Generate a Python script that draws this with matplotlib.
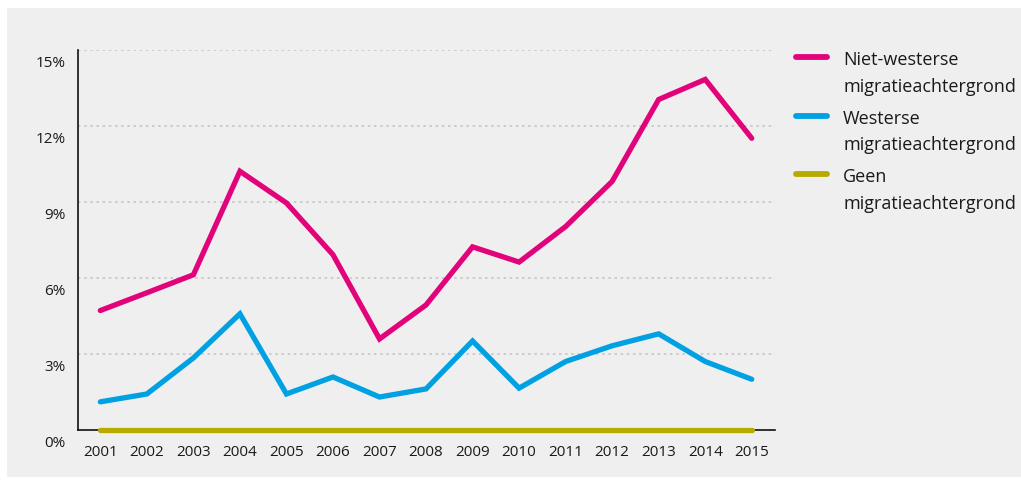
import matplotlib
matplotlib.use("Agg")
import matplotlib.pyplot as plt
from matplotlib.patches import Rectangle
from matplotlib.lines import Line2D
from matplotlib.transforms import ScaledTranslation

years = list(range(2001, 2016))
niet_westers = [4.71, 5.41, 6.12, 10.20, 8.95, 6.91, 3.59, 4.93, 7.22, 6.62, 8.02, 9.80, 13.03, 13.82, 11.50]
westers = [1.11, 1.42, 2.84, 4.58, 1.42, 2.09, 1.30, 1.62, 3.51, 1.65, 2.70, 3.32, 3.79, 2.70, 2.00]
geen = [0.0] * 15
series_labels = ["Niet-westerse\nmigratieachtergrond",
                 "Westerse\nmigratieachtergrond",
                 "Geen\nmigratieachtergrond"]
series_colors = ["#e2037a", "#00a1e3", "#b8ab00"]
y_ticks = [0, 3, 6, 9, 12, 15]
y_tick_labels = ["0%", "3%", "6%", "9%", "12%", "15%"]

W, H = 1021, 481
fig = plt.figure(figsize=(W / 100, H / 100), dpi=100)
fig.patch.set_facecolor("white")
fig.patches.append(Rectangle((7 / W, 3 / H), (W - 7) / W, (H - 12) / H,
                             transform=fig.transFigure, facecolor="#efefef",
                             edgecolor="none", zorder=0))

ax = fig.add_axes([78 / W, (H - 431) / H, (775 - 78) / W, 380.5 / H])
ax.set_facecolor("none")
ax.set_zorder(2)

font = "Open Sans"
text_color = "#1a1a1a"

for vals, col in zip([niet_westers, westers, geen], series_colors):
    ax.plot(years, vals, color=col, lw=3.8, solid_capstyle="round",
            solid_joinstyle="miter", zorder=3, clip_on=False)

ax.set_xlim(2000.52, 2015.5)
ax.set_ylim(0, 15)
ax.set_xticks(years)
ax.set_xticklabels([str(y) for y in years], fontfamily=font, fontsize=11, color=text_color)
ax.set_yticks(y_ticks)
ax.set_yticklabels(y_tick_labels, fontfamily=font, fontsize=11, color=text_color)
ax.tick_params(axis="both", length=0)
ax.tick_params(axis="x", pad=10)
ax.tick_params(axis="y", pad=9)
shift = ScaledTranslation(0, -11 / 100, fig.dpi_scale_trans)
for lab in ax.get_yticklabels():
    lab.set_transform(lab.get_transform() + shift)

ax.yaxis.grid(True, linestyle=(0, (1.5, 2.2)), color="#c6c6c6", lw=1.2, zorder=1)
ax.set_axisbelow(True)
for s in ("top", "right"):
    ax.spines[s].set_visible(False)
for s in ("left", "bottom"):
    ax.spines[s].set_color("#111111")
    ax.spines[s].set_linewidth(1.2)

# legend drawn at the right of the plot
entry_y = [58, 116.5, 175]
for lab, col, yy in zip(series_labels, series_colors, entry_y):
    fig.add_artist(Line2D([796 / W, 827 / W], [1 - yy / H] * 2, color=col, lw=4.2,
                          solid_capstyle="round", zorder=3))
    for i, part in enumerate(lab.split("\n")):
        fig.text(843 / W, 1 - (yy + 2 + i * 27) / H, part, fontfamily=font,
                 fontsize=13, color=text_color, va="center", ha="left", zorder=3)

fig.savefig("out.png", dpi=100)
